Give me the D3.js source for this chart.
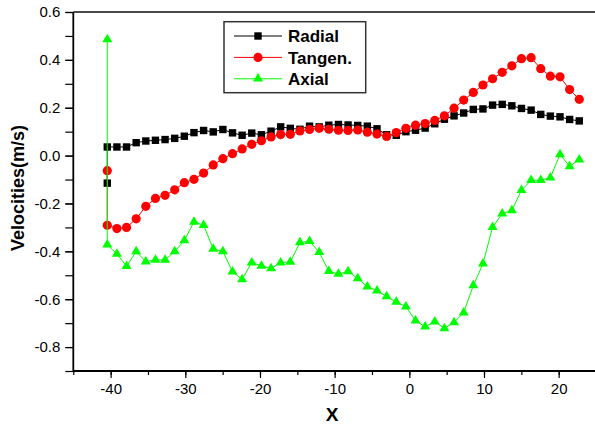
<!DOCTYPE html>
<html>
<head>
<meta charset="utf-8">
<script src="https://cdn.jsdelivr.net/npm/d3@7"></script>
<style>
  body { margin: 0; background: #fff; }
  svg { display: block; font-family: "Liberation Sans", Arial, sans-serif; }
</style>
</head>
<body>
<svg width="595" height="425"></svg>
<script>
// x positions of the regular points (mm)
var xs = [-40.45, -39.16, -37.87, -36.58, -35.29, -34.00, -32.71, -31.42, -30.13, -28.84,
          -27.55, -26.26, -24.97, -23.68, -22.39, -21.10, -19.81, -18.52, -17.23, -15.94,
          -14.65, -13.36, -12.07, -10.78, -9.49, -8.20, -6.91, -5.62, -4.33, -3.04,
          -1.75, -0.46, 0.83, 2.12, 3.41, 4.70, 5.99, 7.28, 8.57, 9.86,
          11.15, 12.44, 13.73, 15.02, 16.31, 17.60, 18.89, 20.18, 21.47, 22.76]

var radial = [0.036, 0.036, 0.036, 0.054, 0.061, 0.064, 0.067, 0.072, 0.081, 0.096,
              0.105, 0.099, 0.109, 0.095, 0.085, 0.094, 0.087, 0.102, 0.120, 0.114,
              0.110, 0.123, 0.120, 0.127, 0.130, 0.128, 0.126, 0.123, 0.112, 0.087,
              0.085, 0.100, 0.106, 0.115, 0.133, 0.152, 0.166, 0.178, 0.193, 0.195,
              0.211, 0.214, 0.208, 0.197, 0.190, 0.172, 0.165, 0.162, 0.151, 0.145]

var tangen = [-0.291, -0.305, -0.300, -0.264, -0.212, -0.179, -0.166, -0.143, -0.113, -0.099,
              -0.073, -0.039, -0.013, 0.008, 0.028, 0.047, 0.062, 0.078, 0.088, 0.089,
              0.103, 0.109, 0.114, 0.110, 0.106, 0.105, 0.107, 0.098, 0.090, 0.080,
              0.096, 0.114, 0.127, 0.134, 0.147, 0.166, 0.198, 0.232, 0.264, 0.295,
              0.321, 0.348, 0.375, 0.405, 0.409, 0.363, 0.332, 0.329, 0.276, 0.235]

var axial = [-0.372, -0.411, -0.462, -0.401, -0.443, -0.436, -0.436, -0.400, -0.355, -0.277,
             -0.291, -0.390, -0.400, -0.485, -0.517, -0.447, -0.461, -0.472, -0.447, -0.444,
             -0.363, -0.358, -0.404, -0.483, -0.495, -0.484, -0.513, -0.548, -0.564, -0.589,
             -0.612, -0.631, -0.690, -0.715, -0.694, -0.722, -0.697, -0.656, -0.543, -0.452,
             -0.299, -0.243, -0.229, -0.145, -0.103, -0.103, -0.092, 0.005, -0.045, -0.017]

// first reading at the wall, drawn before the regular points
var firstPoint = {Radial: -0.115, "Tangen.": -0.063, Axial: 0.485}

var seriesNames = ["Radial", "Tangen.", "Axial"]
var seriesColors = ["#000000", "#ff0000", "#00ff00"]

var xTicks = [-45, -40, -35, -30, -25, -20, -15, -10, -5, 0, 5, 10, 15, 20, 25]
var xLabels = [-40, -30, -20, -10, 0, 10, 20]
var yTicks = [-0.9, -0.8, -0.7, -0.6, -0.5, -0.4, -0.3, -0.2, -0.1, 0.0, 0.1, 0.2, 0.3, 0.4, 0.5, 0.6]
var yLabels = [-0.8, -0.6, -0.4, -0.2, 0.0, 0.2, 0.4, 0.6]

var svg = d3.select("svg")

var plotLeft = 73.3, plotRight = 596, plotTop = 12, plotBottom = 371

var x = d3.scaleLinear().domain([-45, 25]).range([plotLeft, plotRight])
var y = d3.scaleLinear().domain([-0.9, 0.6]).range([plotBottom, plotTop])

// top frame line
svg.append("line")
    .attr("x1", plotLeft).attr("x2", 595)
    .attr("y1", plotTop).attr("y2", plotTop)
    .attr("stroke", "#4a4a4a")
    .attr("stroke-width", 2)

// x axis: minor ticks, then labelled major ticks
var xMinor = svg.append("g")
    .attr("transform", "translate(0," + plotBottom + ")")
    .call(d3.axisBottom(x).tickValues(xTicks).tickSize(4).tickFormat(""))
var xMajor = svg.append("g")
    .attr("transform", "translate(0," + plotBottom + ")")
    .call(d3.axisBottom(x).tickValues(xLabels).tickSize(7).tickPadding(5)
        .tickFormat(function(d) { return String(d) }))
xMajor.selectAll("text").attr("font-size", "15px").attr("fill", "#000")
    .attr("font-family", "Liberation Sans, Arial, sans-serif")

// y axis
var yMinor = svg.append("g")
    .attr("transform", "translate(" + plotLeft + ",0)")
    .call(d3.axisLeft(y).tickValues(yTicks).tickSize(8).tickFormat(""))
var yMajor = svg.append("g")
    .attr("transform", "translate(" + plotLeft + ",0)")
    .call(d3.axisLeft(y).tickValues(yLabels).tickSize(8).tickPadding(5)
        .tickFormat(function(d) { return d.toFixed(1) }))
yMajor.selectAll("text").attr("font-size", "15px").attr("fill", "#000")
    .attr("font-family", "Liberation Sans, Arial, sans-serif")

svg.selectAll(".domain").attr("stroke", "#000").attr("stroke-width", 1.8)
svg.selectAll(".tick line").attr("stroke", "#000").attr("stroke-width", 1.2)
xMinor.select(".domain").attr("d", "M" + plotLeft + ",0H595")
yMinor.select(".domain").attr("d", "M0," + plotTop + "V" + plotBottom)
xMajor.select(".domain").remove()
yMajor.select(".domain").remove()

// axis titles
svg.append("text")
    .attr("x", 332).attr("y", 421)
    .attr("text-anchor", "middle")
    .attr("font-size", "19px").attr("font-weight", "bold")
    .text("X")

svg.append("text")
    .attr("transform", "translate(24,188) rotate(-90)")
    .attr("text-anchor", "middle")
    .attr("font-size", "18px").attr("font-weight", "bold")
    .text("Velocities(m/s)")

// markers
var triangle = "M0,-5.7L5,2.8L-5,2.8Z"
var drawMarker = function(g, name, color, px, py) {
    if (name == "Radial") {
        g.append("rect").attr("x", px - 3.7).attr("y", py - 3.7)
            .attr("width", 7.4).attr("height", 7.4).attr("fill", color)
    }
    else if (name == "Tangen.") {
        g.append("circle").attr("cx", px).attr("cy", py).attr("r", 4.6).attr("fill", color)
    }
    else {
        g.append("path").attr("d", triangle)
            .attr("transform", "translate(" + px + "," + py + ")").attr("fill", color)
    }
}

var allValues = [radial, tangen, axial]
var line = d3.line()
    .x(function(d) { return x(d[0]) })
    .y(function(d) { return y(d[1]) })

seriesNames.forEach(function(name, k) {
    var pts = [[xs[0], firstPoint[name]]]
    allValues[k].forEach(function(v, i) { pts.push([xs[i], v]) })
    var g = svg.append("g")
    g.append("path")
        .attr("d", line(pts))
        .attr("fill", "none")
        .attr("stroke", seriesColors[k])
        .attr("stroke-width", 1)
    pts.forEach(function(p) {
        drawMarker(g, name, seriesColors[k], x(p[0]), y(p[1]))
    })
})

// legend
var legend = svg.append("g")
legend.append("rect")
    .attr("x", 224).attr("y", 21.7)
    .attr("width", 141.7).attr("height", 71)
    .attr("fill", "#fff")
    .attr("stroke", "#333")
    .attr("stroke-width", 1.5)

seriesNames.forEach(function(name, k) {
    var ly = 36 + k * 21.4
    legend.append("line")
        .attr("x1", 234).attr("x2", 282)
        .attr("y1", ly).attr("y2", ly)
        .attr("stroke", seriesColors[k]).attr("stroke-width", 1)
    drawMarker(legend, name, seriesColors[k], 258, ly)
    legend.append("text")
        .attr("x", 288).attr("y", ly)
        .attr("dy", "0.36em")
        .attr("font-size", "17px").attr("font-weight", "bold")
        .text(name)
})
</script>
</body>
</html>
